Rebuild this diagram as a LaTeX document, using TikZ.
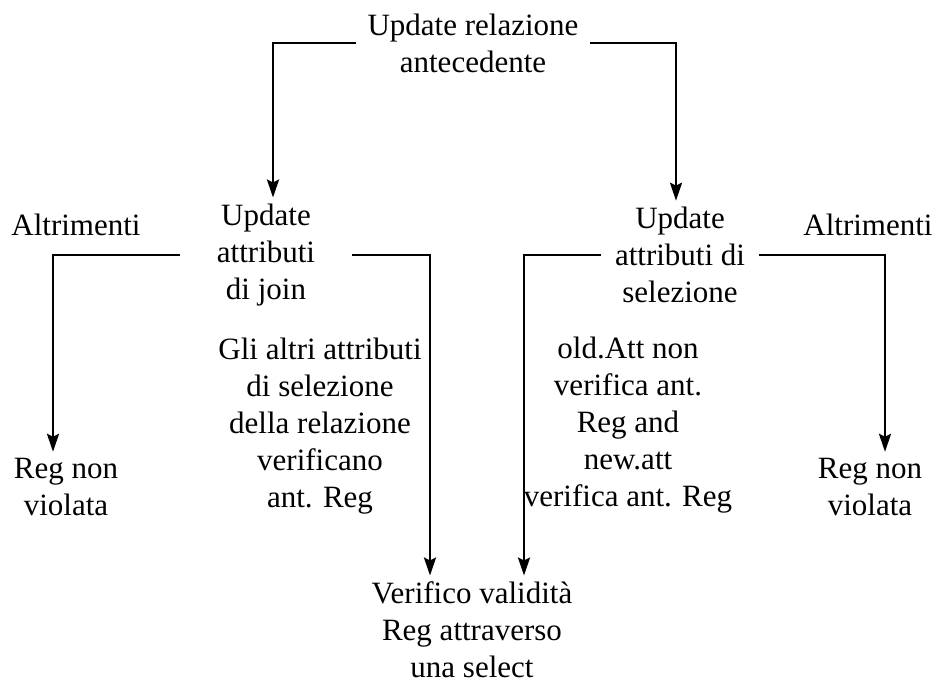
\documentclass[tikz,border=0pt]{standalone}
\usepackage{fontspec}
\setmainfont{Liberation Serif}
\usetikzlibrary{arrows.meta,calc}
\begin{document}
\begin{tikzpicture}[x=0.5pt,y=-0.5pt,
  lbl/.style={font=\fontsize{15.5}{18.5}\selectfont, align=center, inner sep=3pt},
  arr/.style={line width=1.3pt, -{Stealth[length=9pt,width=6pt,inset=1.5pt]}}]
\useasboundingbox (0,0) rectangle (936,684);

% decision nodes
\node[lbl, minimum width=116.5pt] (top) at (473,43) {Update relazione\\antecedente};
\node[lbl, minimum width=86pt] (join) at (266,255) {Update\\attributi\\di join};
\node[lbl, minimum width=78.5pt] (sel) at (680,255) {Update\\attributi di\\selezione};

% branch conditions
\node[lbl] (altL) at (76,225) {Altrimenti};
\node[lbl] (altR) at (868,225) {Altrimenti};
\node[lbl] (gli) at (320,426) {Gli altri attributi\\di selezione\\della relazione\\verificano\\ant. Reg};
\node[lbl] (old) at (628,425) {old.Att non\\verifica ant.\\Reg and\\new.att\\verifica ant. Reg};

% outcomes
\node[lbl] (reg1) at (66,487) {Reg non\\violata};
\node[lbl] (reg2) at (870,487) {Reg non\\violata};
\node[lbl] (verify) at (472,630) {Verifico validità\\Reg attraverso\\una select};

% connectors
\draw[arr] (top.west) -| ($(join.north)+(7,0)$);
\draw[arr] (top.east) -| ($(sel.north)+(-4,0)$);
\draw[arr] (join.west) -| ($(reg1.north)+(-13,0)$);
\draw[arr] (join.east) -| ($(verify.north)+(-42,0)$);
\draw[arr] (sel.west) -| ($(verify.north)+(52,0)$);
\draw[arr] (sel.east) -| ($(reg2.north)+(15,0)$);
\end{tikzpicture}
\end{document}
